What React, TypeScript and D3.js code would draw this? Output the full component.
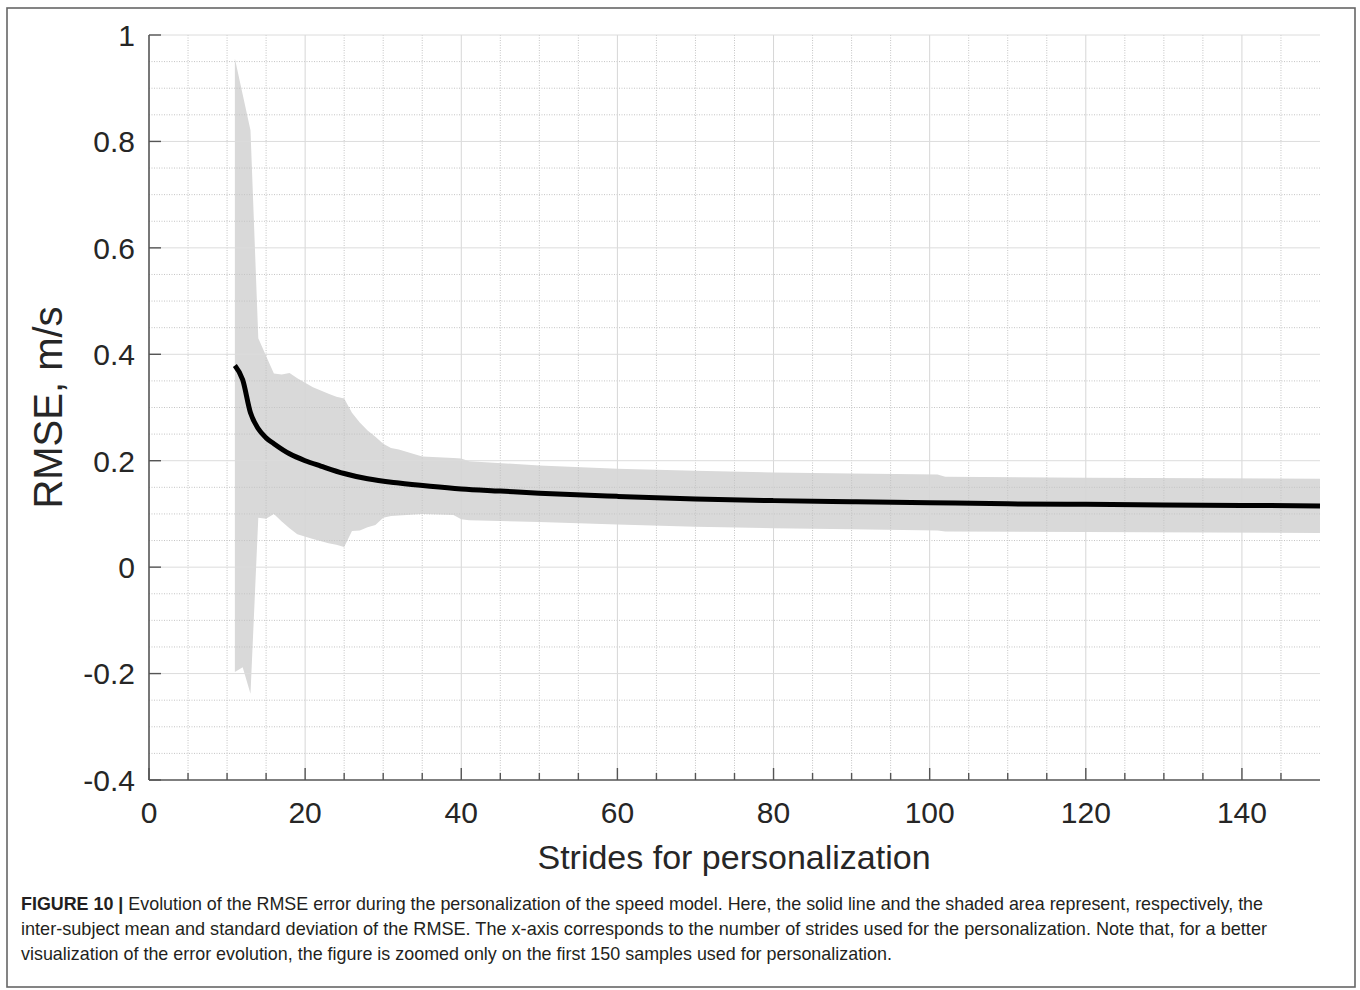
import React from "react";
import * as d3 from "d3";

const meanX = [11, 12, 13, 14, 15, 16, 18, 20, 22, 25, 28, 32, 36, 40, 45, 50, 60, 70, 80, 90, 100, 110, 120, 130, 140, 150];
const meanY = [0.379, 0.352, 0.29, 0.26, 0.243, 0.232, 0.213, 0.2, 0.19, 0.176, 0.166, 0.158, 0.152, 0.147, 0.143, 0.139, 0.133, 0.128, 0.125, 0.123, 0.121, 0.119, 0.118, 0.117, 0.116, 0.115];

const bandX = [11, 12, 13, 14, 15, 16, 17, 18, 19, 21, 23, 24, 25, 26, 27, 28, 29, 30, 31, 32, 35, 39, 40, 41, 50, 60, 70, 80, 90, 101, 102, 120, 150];
const bandUpper = [0.956, 0.888, 0.821, 0.43, 0.397, 0.364, 0.362, 0.365, 0.355, 0.338, 0.326, 0.32, 0.317, 0.29, 0.272, 0.257, 0.245, 0.232, 0.224, 0.221, 0.208, 0.205, 0.204, 0.199, 0.191, 0.185, 0.181, 0.178, 0.176, 0.174, 0.17, 0.168, 0.166];
const bandLower = [-0.197, -0.188, -0.238, 0.093, 0.091, 0.1, 0.086, 0.073, 0.062, 0.053, 0.045, 0.042, 0.038, 0.068, 0.069, 0.075, 0.079, 0.093, 0.096, 0.097, 0.1, 0.098, 0.09, 0.088, 0.085, 0.08, 0.076, 0.073, 0.071, 0.069, 0.067, 0.066, 0.064];

const xTicks = [0, 20, 40, 60, 80, 100, 120, 140];
const yTicks = [-0.4, -0.2, 0, 0.2, 0.4, 0.6, 0.8, 1];
const yTickLabels = ["-0.4", "-0.2", "0", "0.2", "0.4", "0.6", "0.8", "1"];

const xLabel = "Strides for personalization";
const yLabel = "RMSE, m/s";
const captionBold = "FIGURE 10 | ";
const captionLines = [
  "Evolution of the RMSE error during the personalization of the speed model. Here, the solid line and the shaded area represent, respectively, the",
  "inter-subject mean and standard deviation of the RMSE. The x-axis corresponds to the number of strides used for the personalization. Note that, for a better",
  "visualization of the error evolution, the figure is zoomed only on the first 150 samples used for personalization.",
];

export default function App() {
  const W = 1360, H = 990;
  const x = d3.scaleLinear().domain([0, 150]).range([149, 1320]);
  const y = d3.scaleLinear().domain([-0.4, 1]).range([780, 35]);

  const minorX = d3.range(5, 150, 5).filter((v) => v % 20 !== 0);
  const minorY = d3.range(-0.35, 1.0, 0.05).map((v) => Math.round(v * 100) / 100).filter((v) => Math.abs(Math.round(v * 10) / 10 - v) > 1e-6 || Math.round(v * 10) % 2 !== 0);
  const majorYGrid = yTicks.filter((v) => v !== -0.4);
  const majorXGrid = xTicks.filter((v) => v !== 0);

  const band = bandX.map((v, i) => ({ x: v, lo: bandLower[i], hi: bandUpper[i] }));
  const areaPath = d3.area<any>().x((d) => x(d.x)).y0((d) => y(d.lo)).y1((d) => y(d.hi)).curve(d3.curveLinear)(band) || "";
  const meanPts = meanX.map((v, i) => [v, meanY[i]] as [number, number]);
  const linePath = d3.line<[number, number]>().x((d) => x(d[0])).y((d) => y(d[1])).curve(d3.curveMonotoneX)(meanPts) || "";

  const font = "'Liberation Sans', Arial, Helvetica, sans-serif";
  const axisColor = "#555";
  const x0 = x(0), x1 = x(150), yTop = y(1), yBot = y(-0.4);
  const capWidths = [1242, 1246, 871];

  return (
    <svg width={W} height={H} style={{ position: "absolute", left: 0, top: 0, background: "#fff" }} fontFamily={font}>
      <rect x={7} y={8} width={1348} height={979} fill="#fff" stroke="#666" strokeWidth={1.6} />
      <path d={areaPath} fill="#d9d9d9" stroke="none" />
      {minorX.map((v) => (
        <line key={"mx" + v} x1={x(v)} x2={x(v)} y1={yTop} y2={yBot} stroke="#c4c4c4" strokeWidth={1} strokeDasharray="1,1.5" />
      ))}
      {minorY.map((v) => (
        <line key={"my" + v} x1={x0} x2={x1} y1={y(v)} y2={y(v)} stroke="#c4c4c4" strokeWidth={1} strokeDasharray="1,1.5" />
      ))}
      {majorXGrid.map((v) => (
        <line key={"gx" + v} x1={x(v)} x2={x(v)} y1={yTop} y2={yBot} stroke="#d6d6d6" strokeWidth={1} />
      ))}
      {majorYGrid.map((v) => (
        <line key={"gy" + v} x1={x0} x2={x1} y1={y(v)} y2={y(v)} stroke="#dcdcdc" strokeWidth={1} />
      ))}
      <path d={linePath} fill="none" stroke="#000" strokeWidth={5} strokeLinejoin="round" />
      <line x1={x0} x2={x0} y1={yTop} y2={yBot} stroke={axisColor} strokeWidth={1.6} />
      <line x1={x0} x2={x1} y1={yBot} y2={yBot} stroke={axisColor} strokeWidth={1.6} />
      {yTicks.map((v, i) => (
        <g key={"yt" + v}>
          <line x1={x0} x2={x0 + 12} y1={y(v)} y2={y(v)} stroke={axisColor} strokeWidth={1.4} />
          <text x={135} y={y(v)} dy="0.36em" textAnchor="end" fontSize={30} fill="#262626">{yTickLabels[i]}</text>
        </g>
      ))}
      {d3.range(0, 151, 5).filter((v) => v < 150).map((v) => (
        <line key={"xt" + v} x1={x(v)} x2={x(v)} y1={yBot} y2={yBot - (v % 20 === 0 ? 12 : 7)} stroke={axisColor} strokeWidth={1.4} />
      ))}
      {xTicks.map((v) => (
        <text key={"xl" + v} x={x(v)} y={823} textAnchor="middle" fontSize={30} fill="#262626">{v}</text>
      ))}
      <text x={734} y={869} textAnchor="middle" fontSize={34} fill="#262626">{xLabel}</text>
      <text transform={`translate(62,${(yTop + yBot) / 2}) rotate(-90)`} textAnchor="middle" fontSize={40} fill="#262626">{yLabel}</text>
      {captionLines.map((t, i) => (
        <text key={"cap" + i} x={21} y={910 + i * 25} fontSize={19} fill="#231f20" fontFamily="'Liberation Sans Narrow', 'Liberation Sans', Arial, sans-serif" textLength={capWidths[i]} lengthAdjust="spacingAndGlyphs">
          {i === 0 ? <tspan fontWeight="bold">{captionBold}</tspan> : null}
          {t}
        </text>
      ))}
    </svg>
  );
}
